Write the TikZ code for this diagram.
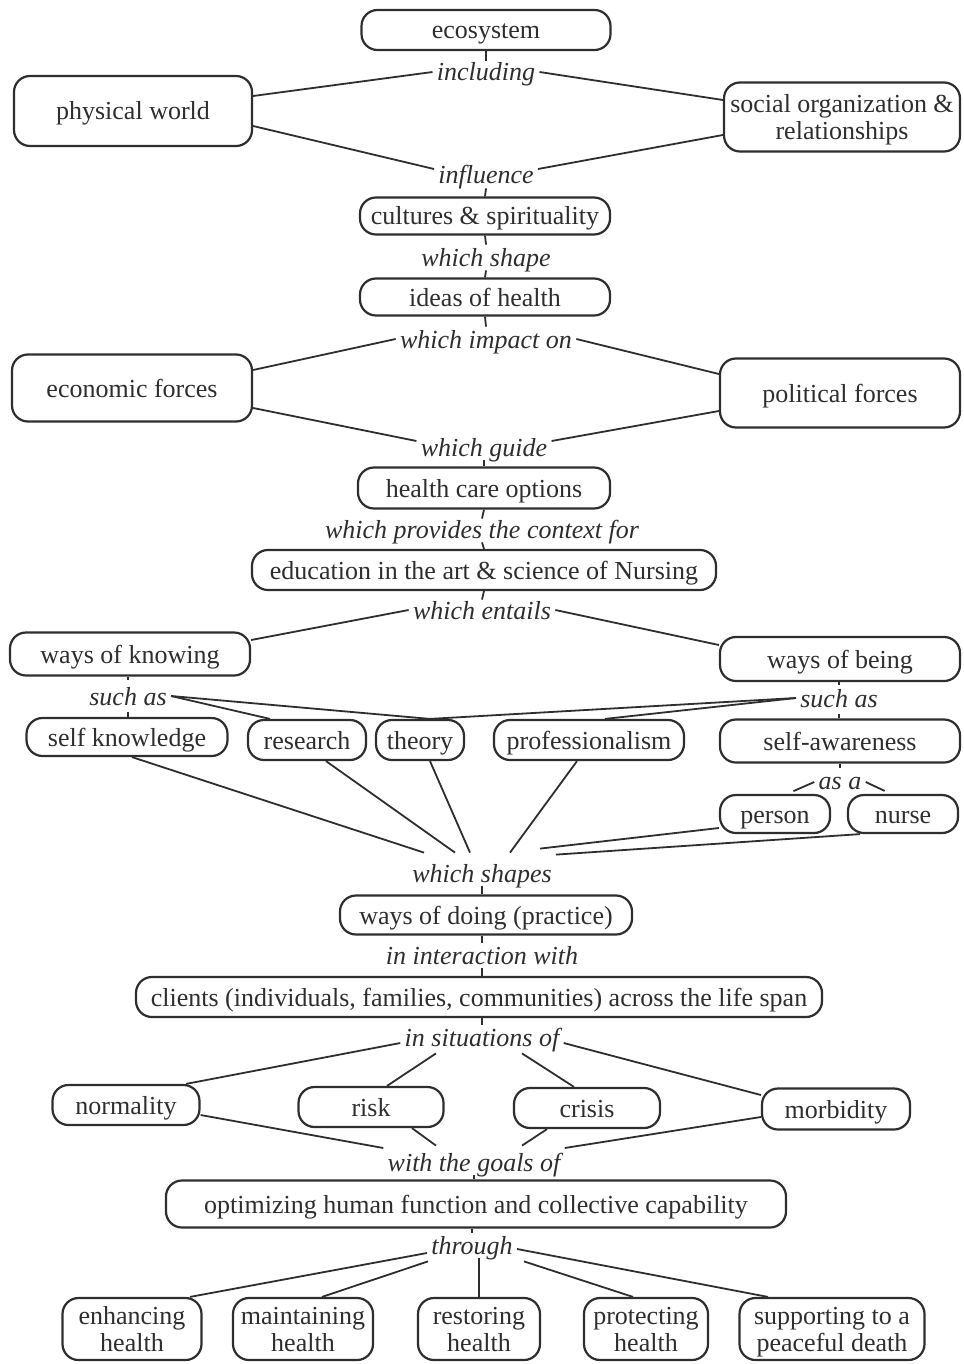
\documentclass[tikz,border=0pt]{standalone}
\usepackage{fontspec}
\setmainfont{Liberation Serif}
\definecolor{ink}{HTML}{2E2E2E}
\begin{document}
\begin{tikzpicture}[x=0.5pt,y=-0.5pt,
  every node/.style={text=ink, font=\fontsize{13}{13.5}\selectfont},
  box/.style={draw=ink, line width=1.1pt, rounded corners=8pt, align=center, inner sep=0pt, text height=10.5pt, text depth=1.5pt},
  twoline/.style={text height=24pt, text depth=1.5pt},
  lbl/.style={font=\fontsize{13}{13.5}\selectfont\itshape, inner sep=2pt, text height=10.5pt, text depth=1.5pt},
  conn/.style={draw=ink, line width=0.9pt}]
\useasboundingbox (0,0) rectangle (963,1364);
% boxes
\node[box, minimum width=124.5pt, minimum height=20pt] (eco) at (486,30) {ecosystem};
\node[lbl] (incl) at (486,72) {including};
\node[box, minimum width=119pt, minimum height=35pt] (pw) at (133,111) {physical world};
\node[box, twoline, minimum width=118pt, minimum height=34.5pt] (soc) at (842,117) {social organization \&\\relationships};
\node[lbl] (infl) at (486,175) {influence};
\node[box, minimum width=125pt, minimum height=18.5pt] (cult) at (485,216) {cultures \& spirituality};
\node[lbl] (shape1) at (486,257) {which shape};
\node[box, minimum width=125pt, minimum height=18.5pt] (ideas) at (485,297) {ideas of health};
\node[lbl] (impact) at (486,339) {which impact on};
\node[box, minimum width=120pt, minimum height=33.5pt] (econ) at (132,388) {economic forces};
\node[box, minimum width=120pt, minimum height=34.5pt] (pol) at (840,393) {political forces};
\node[lbl] (guide) at (484,447) {which guide};
\node[box, minimum width=126pt, minimum height=20.5pt] (hco) at (484,488) {health care options};
\node[lbl] (context) at (482,529) {which provides the context for};
\node[box, minimum width=232pt, minimum height=20pt] (edu) at (484,570) {education in the art \& science of Nursing};
\node[lbl] (entails) at (482,610) {which entails};
\node[box, minimum width=120pt, minimum height=21.5pt] (wok) at (130,654) {ways of knowing};
\node[box, minimum width=120pt, minimum height=22pt] (wob) at (840,659) {ways of being};
\node[lbl] (suchL) at (128,696) {such as};
\node[lbl] (suchR) at (839,698) {such as};
\node[box, minimum width=100.5pt, minimum height=19pt] (selfk) at (127,737) {self knowledge};
\node[box, minimum width=59pt, minimum height=20pt] (research) at (307,740) {research};
\node[box, minimum width=44pt, minimum height=20pt] (theory) at (420,740) {theory};
\node[box, minimum width=95pt, minimum height=20pt] (prof) at (589,740) {professionalism};
\node[box, minimum width=120pt, minimum height=21.5pt] (selfaw) at (840,741) {self-awareness};
\node[lbl] (asa) at (840,780) {as a};
\node[box, minimum width=55pt, minimum height=19pt] (person) at (775,814) {person};
\node[box, minimum width=55pt, minimum height=19pt] (nurse) at (903,814) {nurse};
\node[lbl] (shapes) at (482,873) {which shapes};
\node[box, minimum width=146pt, minimum height=19.5pt] (doing) at (486,915) {ways of doing (practice)};
\node[lbl] (interact) at (482,955) {in interaction with};
\node[box, minimum width=343pt, minimum height=20pt] (clients) at (479,997) {clients (individuals, families, communities) across the life span};
\node[lbl] (situ) at (482,1037) {in situations of};
\node[box, minimum width=73.5pt, minimum height=20pt] (norm) at (126,1105) {normality};
\node[box, minimum width=72.5pt, minimum height=20pt] (risk) at (371,1107) {risk};
\node[box, minimum width=73pt, minimum height=20pt] (crisis) at (587,1108) {crisis};
\node[box, minimum width=74pt, minimum height=20.5pt] (morb) at (836,1109) {morbidity};
\node[lbl] (goals) at (474,1162) {with the goals of};
\node[box, minimum width=310pt, minimum height=23.5pt] (optim) at (476,1204) {optimizing human function and collective capability};
\node[lbl] (through) at (472,1245) {through};
\node[box, twoline, minimum width=69.5pt, minimum height=31pt] (enh) at (132,1329) {enhancing\\health};
\node[box, twoline, minimum width=70pt, minimum height=31pt] (maint) at (303,1329) {maintaining\\health};
\node[box, twoline, minimum width=61pt, minimum height=31pt] (rest) at (479,1329) {restoring\\health};
\node[box, twoline, minimum width=62pt, minimum height=31pt] (prot) at (646,1329) {protecting\\health};
\node[box, twoline, minimum width=92.5pt, minimum height=31pt] (supp) at (832,1329) {supporting to a\\peaceful death};
% connectors
\path[conn] (eco.south) -- ([yshift=-2.5pt]incl.north);
\path[conn] (incl.west) -- ([yshift=7.5pt]pw.east);
\path[conn] (incl.east) -- ([yshift=8.5pt]soc.west);
\path[conn] ([yshift=-7.5pt]pw.east) -- ([yshift=3pt]infl.west);
\path[conn] ([yshift=-9pt]soc.west) -- ([yshift=3pt]infl.east);
\path[conn] ([yshift=1.5pt]infl.south) -- (cult.north);
\path[conn] (cult.south) -- ([yshift=-2pt]shape1.north);
\path[conn] ([yshift=1.5pt]shape1.south) -- (ideas.north);
\path[conn] (ideas.south) -- ([yshift=-2pt]impact.north);
\path[conn] (impact.west) -- ([yshift=9pt]econ.east);
\path[conn] (impact.east) -- ([yshift=9.5pt]pol.west);
\path[conn] ([yshift=-10pt]econ.east) -- ([yshift=3pt]guide.west);
\path[conn] ([yshift=-9pt]pol.west) -- ([yshift=3pt]guide.east);
\path[conn] ([yshift=1.5pt]guide.south) -- (hco.north);
\path[conn] (hco.south) -- ([yshift=-3pt]context.north);
\path[conn] ([yshift=1.5pt]context.south) -- (edu.north);
\path[conn] (edu.south) -- ([yshift=-3pt]entails.north);
\path[conn] (entails.west) -- ([yshift=7pt]wok.east);
\path[conn] (entails.east) -- ([yshift=7pt]wob.west);
\path[conn] (wok.south -| suchL.north) -- (suchL.north);
\path[conn] (suchL.south) -- (selfk.north -| suchL.south);
\path[conn] (suchL.east) -- ([xshift=-18.5pt]research.north);
\path[conn] (suchL.east) -- ([xshift=5pt]theory.north);
\path[conn] (suchR.west) -- ([xshift=5pt]theory.north);
\path[conn] (suchR.west) -- ([xshift=8pt]prof.north);
\path[conn] (wob.south -| suchR.north) -- ([yshift=-1.5pt]suchR.north);
\path[conn] (suchR.south) -- (selfaw.north -| suchR.south);
\path[conn] (selfaw.south -| asa.north) -- ([yshift=-2pt]asa.north);
\path[conn, shorten >=3.5pt] ([yshift=-1pt]asa.west) -- ([xshift=6pt]person.north);
\path[conn, shorten >=3.5pt] ([yshift=-1pt]asa.east) -- ([xshift=-6pt]nurse.north);
\path[conn] ([xshift=2.5pt]selfk.south) -- ([xshift=-29pt,yshift=2pt]shapes.north);
\path[conn] ([xshift=9.5pt]research.south) -- ([xshift=-13.5pt,yshift=2pt]shapes.north);
\path[conn] ([xshift=5pt]theory.south) -- ([xshift=-6pt,yshift=2pt]shapes.north);
\path[conn] ([xshift=-6pt]prof.south) -- ([xshift=14pt,yshift=2pt]shapes.north);
\path[conn] ([yshift=-7pt]person.west) -- ([xshift=29pt,yshift=4pt]shapes.north);
\path[conn] ([xshift=-21.5pt]nurse.south) -- ([xshift=37pt,yshift=1pt]shapes.north);
\path[conn] ([yshift=1.5pt]shapes.south) -- (doing.north -| shapes.south);
\path[conn] (doing.south -| interact.north) -- ([yshift=-2pt]interact.north);
\path[conn] ([yshift=1.5pt]interact.south) -- (clients.north -| interact.south);
\path[conn] (clients.south -| situ.north) -- ([yshift=-2pt]situ.north);
\path[conn] ([yshift=-3pt]situ.west) -- ([xshift=30pt]norm.north);
\path[conn] ([xshift=-23pt]situ.south) -- ([xshift=8pt]risk.north);
\path[conn] ([xshift=20pt]situ.south) -- ([xshift=-6.5pt]crisis.north);
\path[conn] ([yshift=-3pt]situ.east) -- ([yshift=7pt]morb.west);
\path[conn] ([yshift=-5pt]norm.east) -- ([yshift=7pt]goals.west);
\path[conn] ([xshift=20.5pt]risk.south) -- ([xshift=-19pt]goals.north);
\path[conn] ([xshift=-20pt]crisis.south) -- ([xshift=24pt]goals.north);
\path[conn] ([yshift=-4pt]morb.west) -- ([yshift=7pt]goals.east);
\path[conn] ([yshift=1.5pt]goals.south) -- (optim.north -| goals.south);
\path[conn] (optim.south -| through.north) -- ([yshift=-2pt]through.north);
\path[conn] ([yshift=-4pt]through.west) -- ([xshift=29pt]enh.north);
\path[conn] ([xshift=-22pt]through.south) -- ([xshift=9.5pt]maint.north);
\path[conn] ([yshift=1.5pt]through.south -| rest.north) -- (rest.north);
\path[conn] ([xshift=26pt]through.south) -- ([xshift=-6.5pt]prot.north);
\path[conn] ([yshift=-2pt]through.east) -- ([xshift=-32pt]supp.north);
\end{tikzpicture}
\end{document}
